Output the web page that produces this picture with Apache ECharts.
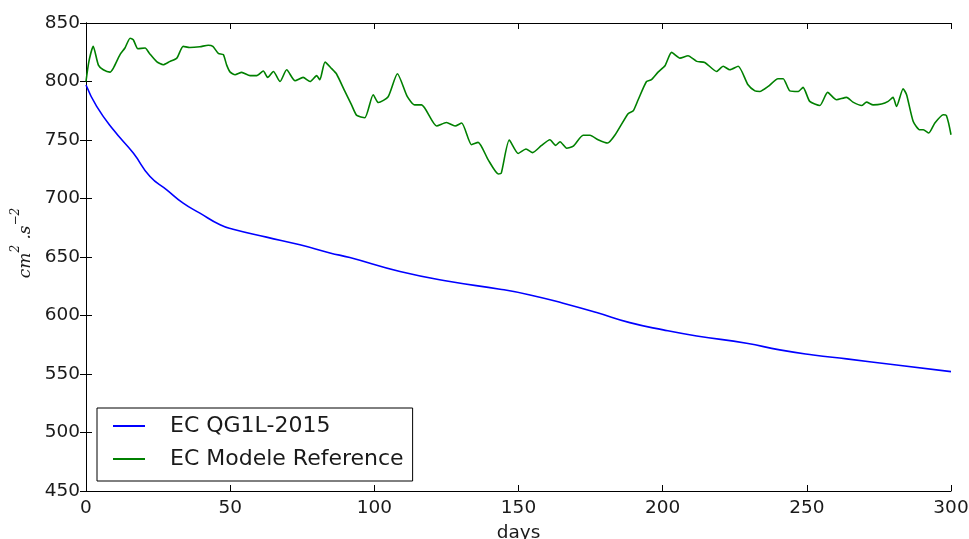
<!DOCTYPE html>
<html>
<head>
<meta charset="utf-8">
<script src="https://cdn.jsdelivr.net/npm/echarts@6/dist/echarts.min.js"></script>
<style>html,body{margin:0;padding:0;background:#fff}#c{width:969px;height:539px}</style>
</head>
<body>
<div id="c"></div>
<script>
var xTicks = [0, 50, 100, 150, 200, 250, 300];
var yTicks = [450, 500, 550, 600, 650, 700, 750, 800, 850];
var seriesNames = ['EC QG1L-2015', 'EC Modele Reference'];

var qgDays = [0,3.7,9.5,16.4,22.2,28,33.7,39.5,46.5,51,62.6,74.2,84.6,91.5,108.9,126.2,143.6,154,165.5,177.1,188.6,200.2,211.8,229.1,240.6,252.2,263.8,281.1,300];
var qgValues = [797,778.7,758.7,738.8,718.8,707.4,696,687.5,677.5,673.8,667,660.4,653.5,649.5,637.6,629,622.5,617.6,610.5,602.5,593.9,587.7,582.5,576.3,570.6,566.3,562.9,557.7,552];

var refDays = [0,1,2.5,4.3,6,8.3,9.5,11.8,13.5,15.3,16.4,18,20.5,22,24.5,26.8,29,31.5,33.7,36,39.5,42.4,44,45.9,47.6,48.8,50,51.7,54,56.9,59.2,61.5,63,65,67.3,69.6,72.5,75.3,77.7,80,81.1,82.9,85.2,86.9,89.8,92.1,93.9,96.7,99.6,101.4,104.8,108,111.4,114,116.4,121.6,125,128,130.3,133.7,136,139.5,143,144,146.8,149.9,152.6,154.9,158,160.9,162.9,164.4,166.7,169,172.4,174.8,177.6,180.9,183.4,188,189.8,191.5,194.4,196.1,198.4,200.8,203.1,206,208.8,211.8,214.6,218.7,221,223.3,226.2,229.6,232,233.7,236.6,240,241.8,244.1,247,248.7,251,254.5,257.2,260.3,263.8,266,269,270.7,273,275.9,278.2,279.9,281.1,283.4,284.6,286.9,289.2,290.4,292.3,294.4,297.3,298.4,300];
var refValues = [800,817,830,814,810,808,811.5,823,828.6,837,835.7,828,828.6,824,817,814.3,817,820,830,829,829.7,831,830,824,823,814,808,805.8,807.8,805,805,809,803.5,808.6,800,810,800.6,803.5,800,805,801.5,816.6,811,806.4,791.5,780,771,769,788.7,782,787,806.6,787.2,780,780,762,765,762,764.5,746,748,733,721,721.5,750,738.5,742.3,739.2,745.4,750.2,745.4,748.5,743,744.7,754,754,750.2,747.4,754,772.5,775,784.4,800,801.5,808,813.5,824.9,820,822,817.2,816.3,808.6,813,810,813,797.2,792,791.5,795.8,802.4,802.4,792,791.5,795,783,779.5,790.7,784.4,786.4,782.4,779.5,782.4,780,780.7,783,786.4,778.7,793.8,788.7,765.8,758.7,758.7,756,764.5,771.6,771,754.5];

function pairs(xs, ys) { return xs.map(function (x, i) { return [x, ys[i]]; }); }

var font = 'DejaVu Sans';
var axisCommon = {
  type: 'value',
  axisLine: { show: true, lineStyle: { color: '#000', width: 1 } },
  axisTick: { show: true, inside: true, length: 6, lineStyle: { color: '#000' } },
  splitLine: { show: false },
  axisLabel: { fontFamily: font, fontSize: 18.5, color: '#1a1a1a' }
};

var chart = echarts.init(document.getElementById('c'));
chart.setOption({
  animation: false,
  backgroundColor: '#fff',
  grid: { left: 86, right: 18, top: 23, bottom: 48, containLabel: false, outerBoundsMode: 'none' },
  xAxis: [
    Object.assign({}, axisCommon, {
      min: xTicks[0], max: xTicks[xTicks.length - 1], interval: 50,
      position: 'bottom',
      axisLabel: Object.assign({}, axisCommon.axisLabel, { margin: 8 }),
      name: 'days', nameLocation: 'middle', nameGap: 33,
      nameTextStyle: { fontFamily: font, fontSize: 18.5, color: '#1a1a1a' }
    }),
    Object.assign({}, axisCommon, {
      min: xTicks[0], max: xTicks[xTicks.length - 1], interval: 50,
      position: 'top', axisLabel: { show: false }
    })
  ],
  yAxis: [
    Object.assign({}, axisCommon, {
      min: yTicks[0], max: yTicks[yTicks.length - 1], interval: 50,
      position: 'left',
      axisLabel: Object.assign({}, axisCommon.axisLabel, { margin: 6 }),
      name: '{i|cm}{s|2}{i| .s}{s|\u22122}',
      nameLocation: 'middle', nameRotate: 90, nameGap: 52,
      nameTextStyle: {
        padding: [0, 0, 0, 28],
        rich: {
          i: { fontFamily: 'DejaVu Serif', fontStyle: 'italic', fontSize: 17, color: '#1a1a1a', verticalAlign: 'bottom', lineHeight: 24 },
          s: { fontFamily: 'DejaVu Serif', fontStyle: 'italic', fontSize: 12, color: '#1a1a1a', verticalAlign: 'top', lineHeight: 24 }
        }
      }
    }),
    Object.assign({}, axisCommon, {
      min: yTicks[0], max: yTicks[yTicks.length - 1], interval: 50,
      position: 'right', axisLabel: { show: false }
    })
  ],
  legend: {
    left: 97, top: 408, orient: 'vertical',
    data: seriesNames,
    itemWidth: 32, itemHeight: 14, itemGap: 7,
    padding: [5, 9, 9, 15],
    borderColor: '#000', borderWidth: 1, borderRadius: 0,
    backgroundColor: '#fff',
    itemStyle: { opacity: 0 },
    textStyle: { fontFamily: font, fontSize: 22, color: '#1a1a1a', lineHeight: 26, padding: [0, 0, 0, 20] }
  },
  series: [
    {
      name: seriesNames[0], type: 'line', data: pairs(qgDays, qgValues),
      symbol: 'none', showSymbol: false, smooth: 0.5,
      lineStyle: { color: '#0000ff', width: 1.6 }, itemStyle: { color: '#0000ff' }
    },
    {
      name: seriesNames[1], type: 'line', data: pairs(refDays, refValues),
      symbol: 'none', showSymbol: false, smooth: 0.2,
      lineStyle: { color: '#008000', width: 1.6 }, itemStyle: { color: '#008000' }
    }
  ]
});
</script>
</body>
</html>
